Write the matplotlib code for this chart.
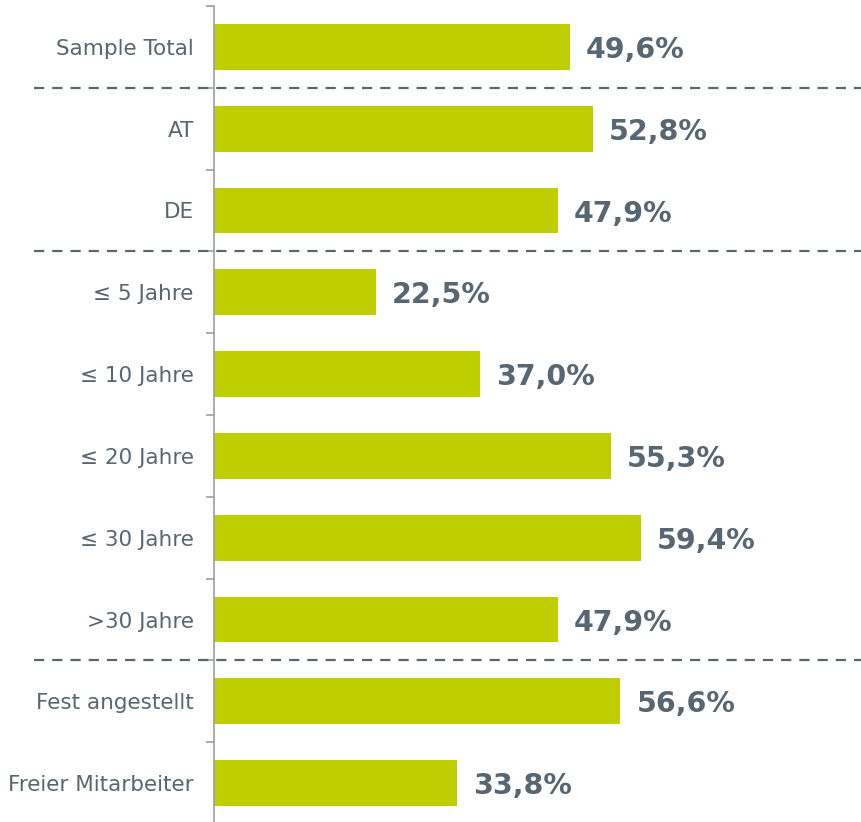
import matplotlib.pyplot as plt
from matplotlib.transforms import offset_copy

categories = ["Sample Total", "AT", "DE", "≤ 5 Jahre", "≤ 10 Jahre", "≤ 20 Jahre",
              "≤ 30 Jahre", ">30 Jahre", "Fest angestellt", "Freier Mitarbeiter"]
values = [49.6, 52.8, 47.9, 22.5, 37.0, 55.3, 59.4, 47.9, 56.6, 33.8]
group_breaks = [0.5, 2.5, 7.5]  # dashed separators between groups

bar_color = "#bfce00"
text_color = "#586672"
axis_color = "#9aa0a6"

fig = plt.figure(figsize=(8.61, 8.22), dpi=100)
ax = fig.add_axes([214 / 861, -2 / 822, 1 - 214 / 861, 818 / 822])

pos = list(range(len(categories)))
ax.barh(pos, values, height=0.56, color=bar_color)

ax.set_xlim(0, 90.1)
ax.set_ylim(len(categories) - 0.5, -0.5)

# value labels
lbl_trans = offset_copy(ax.transData, fig=fig, x=16, y=-3, units="dots")
for p, v in zip(pos, values):
    txt = f"{v:.1f}%".replace(".", ",")
    ax.text(v, p, txt, transform=lbl_trans, va="center", ha="left",
            fontsize=20.5, fontweight="bold", color=text_color)

# dashed group separators
for b in group_breaks:
    ax.axhline(b, xmin=(34 - 214) / (861 - 214), xmax=1, color=text_color,
               lw=1.6, dashes=(4.6, 3.6), clip_on=False)

# spines / ticks
for s in ["top", "right", "bottom"]:
    ax.spines[s].set_visible(False)
ax.spines["left"].set_color(axis_color)
ax.spines["left"].set_linewidth(1.2)
ax.set_xticks([])

ax.set_yticks([i - 0.5 for i in pos] + [len(pos) - 0.5])
ax.set_yticklabels([])
ax.tick_params(axis="y", which="major", length=6, color=axis_color, width=1.2)
ax.set_yticks(pos, minor=True)
ax.set_yticklabels(categories, minor=True)
ax.tick_params(axis="y", which="minor", length=0, pad=14.5, labelsize=15.5,
               labelcolor=text_color)

fig.savefig("out.png", dpi=100)
